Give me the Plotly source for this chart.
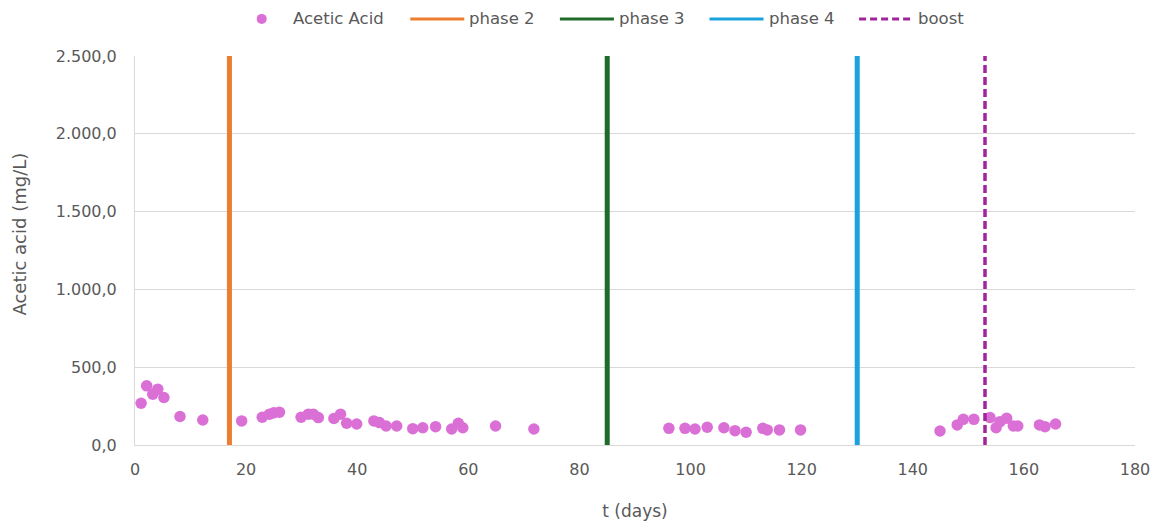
import plotly.graph_objects as go

# Acetic acid measurements (days, mg/L)
days = [1.1, 2.1, 3.2, 4.1, 5.2, 8.1, 12.2, 19.2, 22.9, 24.2, 25.0, 26.0,
        29.9, 31.2, 32.1, 33.0, 35.8, 37.0, 38.1, 39.9, 43.0, 44.0, 45.2, 47.1,
        50.0, 51.8, 54.1, 57.0, 58.2, 59.0, 64.9, 71.8,
        96.1, 99.0, 100.8, 103.0, 106.0, 108.0, 110.0, 113.0, 113.8, 116.0, 119.8,
        144.9, 148.0, 149.1, 151.0, 153.9, 155.0, 155.7, 156.9, 158.1, 158.9,
        162.8, 163.8, 165.7]
acetic = [268, 380, 326, 359, 305, 183, 161, 155, 178, 198, 208, 211,
          178, 198, 198, 176, 170, 198, 140, 135, 155, 144, 122, 122,
          105, 111, 118, 103, 140, 111, 122, 103,
          107, 107, 103, 114, 111, 92, 82, 107, 97, 97, 97,
          90, 129, 165, 165, 176, 111, 150, 172, 122, 122,
          129, 118, 135]
series_name = "Acetic Acid"
marker_color = "#DA70D6"

# Phase change markers (day)
phase_names = ["phase 2", "phase 3", "phase 4", "boost"]
phase_days = [17, 85, 130, 153]
phase_colors = ["#ED7D31", "#1E6B2A", "#1BA1DB", "#A0249A"]
phase_dash = ["solid", "solid", "solid", "8px,4px"]
phase_width = [5, 5, 5, 3.5]

y_max = 2500
grey = "#595959"
font_family = "DejaVu Sans, sans-serif"

fig = go.Figure()
fig.add_trace(go.Scatter(
    x=days, y=acetic, mode="markers", name=series_name,
    marker=dict(color=marker_color, size=11.5), showlegend=False,
))
for name, d, c, dash, w in zip(phase_names, phase_days, phase_colors, phase_dash, phase_width):
    fig.add_trace(go.Scatter(
        x=[d, d], y=[0, y_max], mode="lines", name=name,
        line=dict(color=c, dash=dash, width=w), showlegend=False,
    ))

# Legend row across the top: fixed-width entries in plot-fraction units
plot_left, plot_w = 135, 1000
def px(x):
    return (x - plot_left) / plot_w

leg_y = 1.0954
entry_start = 261.7
entry_step = 149.6
legend_font = dict(family=font_family, size=16.5, color=grey)

fig.add_shape(type="circle", xref="paper", yref="paper",
              xsizemode="pixel", ysizemode="pixel",
              xanchor=px(entry_start), yanchor=leg_y,
              x0=-5, x1=5, y0=-5, y1=5,
              fillcolor=marker_color, line=dict(width=0))
fig.add_annotation(x=px(entry_start + 29), y=leg_y, xref="paper", yref="paper",
                   text=series_name, showarrow=False, xanchor="left",
                   yanchor="middle", font=legend_font)
for i, (name, c, dash) in enumerate(zip(phase_names, phase_colors, phase_dash)):
    x0 = entry_start + entry_step * (i + 1) - 1
    fig.add_shape(type="line", xref="paper", yref="paper",
                  x0=px(x0), x1=px(x0 + 54), y0=leg_y, y1=leg_y,
                  line=dict(color=c, width=3, dash=dash if dash == "solid" else "7px,4px"))
    fig.add_annotation(x=px(x0 + 57), y=leg_y, xref="paper", yref="paper",
                       text=name, showarrow=False, xanchor="left",
                       yanchor="middle", font=legend_font)

# Vertical y-axis title, placed slightly above the plot's mid-height
fig.add_annotation(x=px(20), y=0.541, xref="paper", yref="paper",
                   text="Acetic acid (mg/L)", textangle=-90, showarrow=False,
                   xanchor="center", yanchor="middle",
                   font=dict(family=font_family, size=18, color=grey))

fig.update_layout(
    width=1155, height=525,
    margin=dict(l=135, r=20, t=56, b=80, autoexpand=False),
    paper_bgcolor="white", plot_bgcolor="white",
    separators=",.",
    showlegend=False,
    font=dict(family=font_family, size=16, color=grey),
    xaxis=dict(range=[0, 180], dtick=20, showgrid=False, showline=True,
               linecolor="#d9d9d9", linewidth=1, ticks="", zeroline=False,
               automargin=False, ticklabelstandoff=10,
               tickfont=dict(family=font_family, size=16, color=grey),
               title=dict(text="t (days)", font=dict(family=font_family, size=17, color=grey),
                          standoff=26)),
    yaxis=dict(range=[0, 2500], dtick=500, tickformat=",.1f", showgrid=True,
               gridcolor="#d9d9d9", showline=True, linecolor="#d9d9d9",
               zeroline=False, ticks="", automargin=False, ticklabelstandoff=14,
               tickfont=dict(family=font_family, size=16, color=grey)),
)

fig.write_html("out.html")
